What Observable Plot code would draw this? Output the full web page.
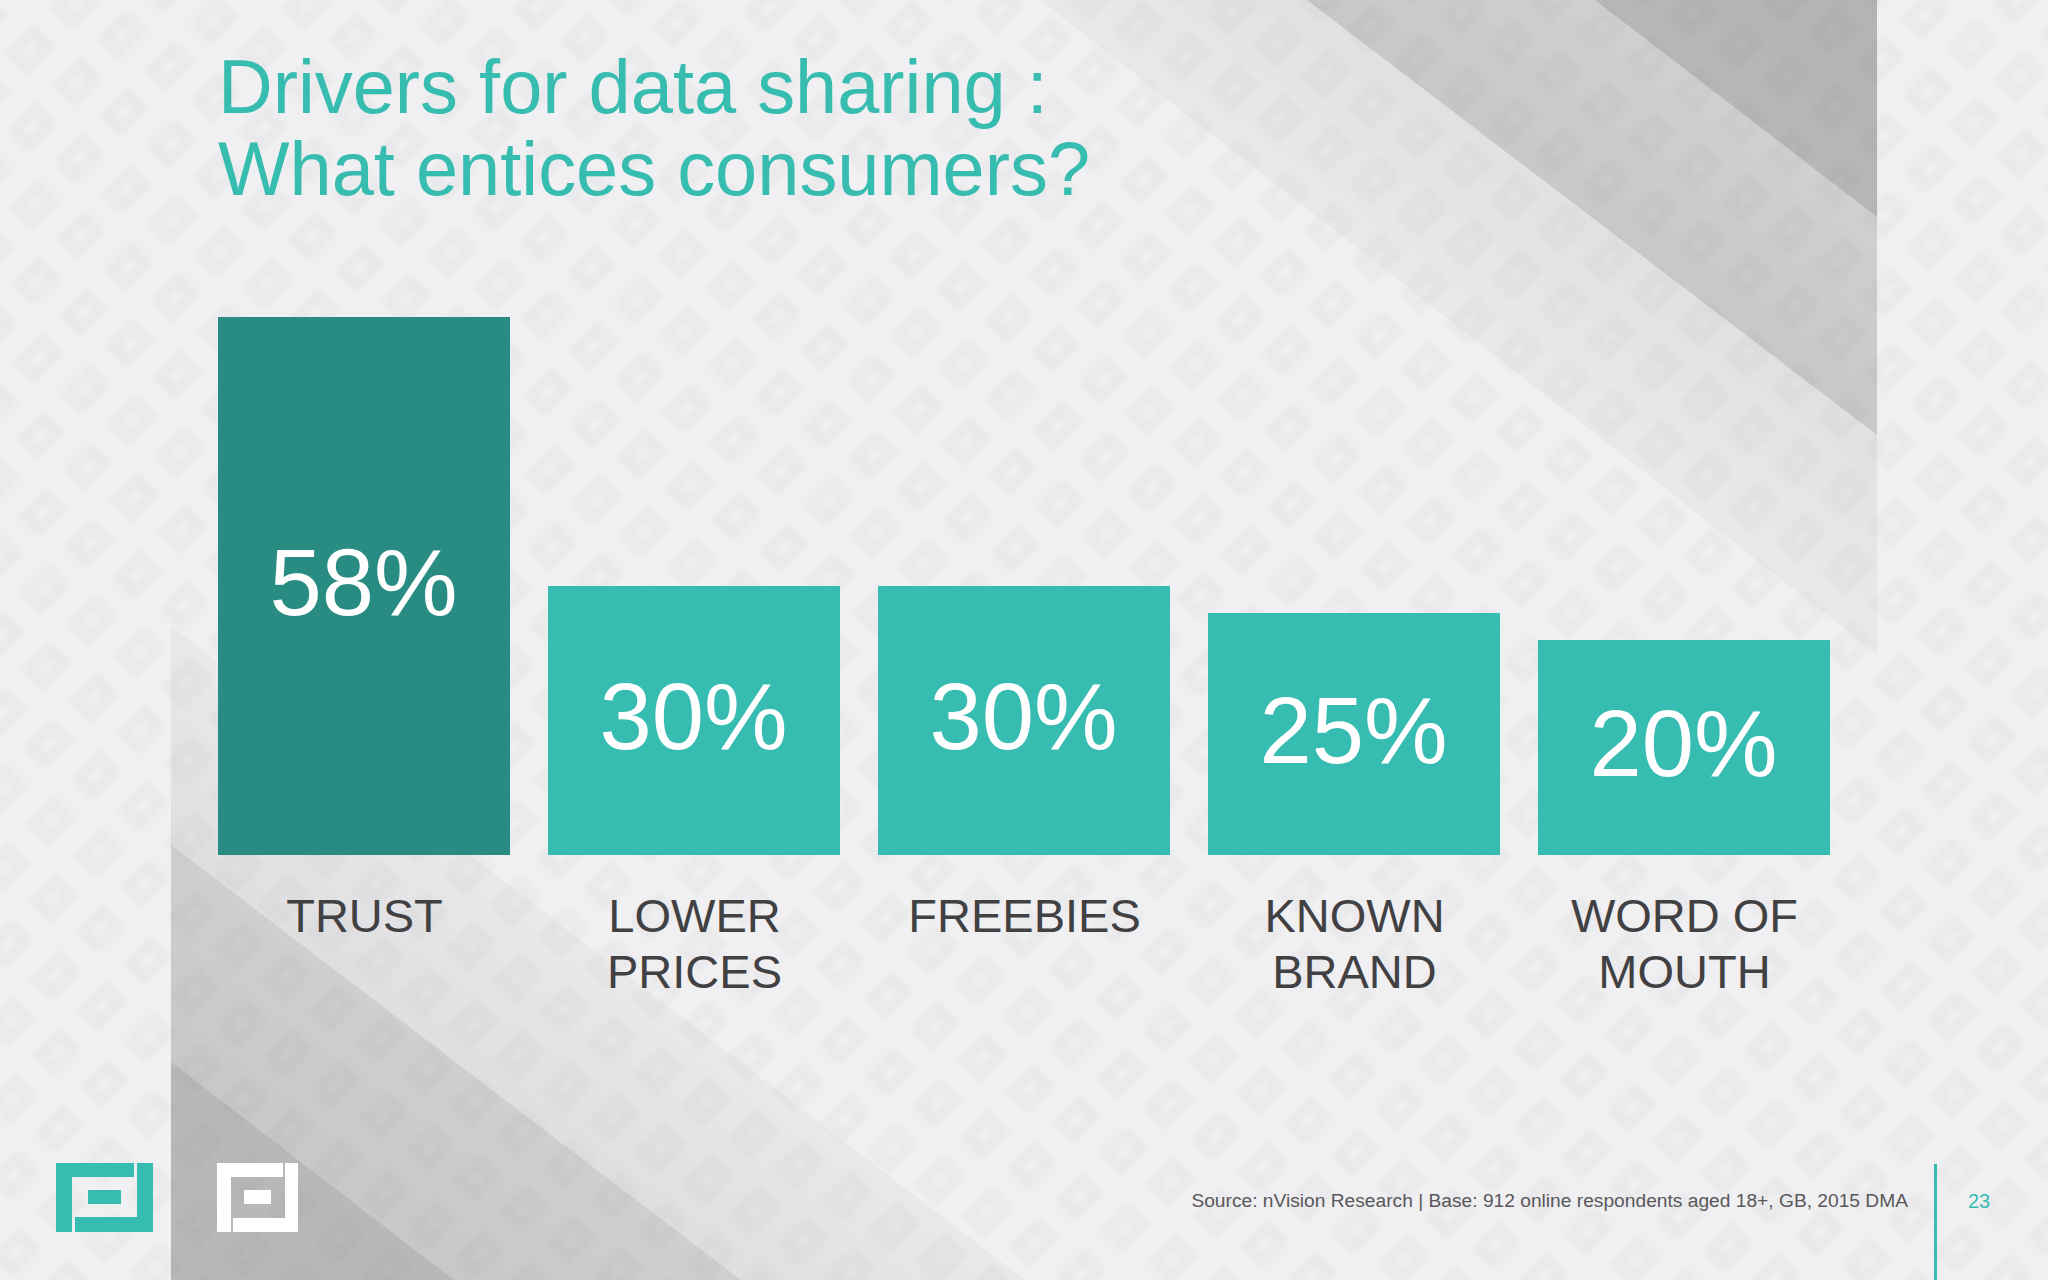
<!DOCTYPE html>
<html>
<head>
<meta charset="utf-8">
<script src="https://cdn.jsdelivr.net/npm/d3@7"></script>
<script src="https://cdn.jsdelivr.net/npm/@observablehq/plot@0.6"></script>
<style>
  html, body { margin: 0; padding: 0; background: #f0eff2; }
  body { position: relative; width: 2048px; height: 1280px; overflow: hidden; font-family: "Liberation Sans", Arial, sans-serif; }
  #chart { position: absolute; left: 0; top: 0; }
  #chart svg { display: block; background: transparent; }
  #title { position: absolute; left: 218px; top: 46px; margin: 0; font-size: 75.8px; line-height: 82px; font-weight: 400; color: #37bcb0; white-space: pre; }
  #source { position: absolute; right: 140px; top: 1189px; font-size: 19.2px; line-height: 24px; color: #58585a; white-space: nowrap; }
  #page { position: absolute; left: 1959px; width: 40px; text-align: center; top: 1189px; font-size: 20px; line-height: 24px; color: #37bcb0; }
  #rule { position: absolute; left: 1934px; top: 1164px; width: 3px; height: 116px; background: #37bcb0; }
</style>
</head>
<body>
<div id="chart"></div>
<h1 id="title"></h1>
<div id="source"></div>
<div id="rule"></div>
<div id="page"></div>
<script>
const titleLines = ["Drivers for data sharing :", "What entices consumers?"];
const sourceText = "Source: nVision Research | Base: 912 online respondents aged 18+, GB, 2015 DMA";
const pageNumber = "23";

const categories = ["TRUST", "LOWER\nPRICES", "FREEBIES", "KNOWN\nBRAND", "WORD OF\nMOUTH"];
const values = [58, 30, 30, 25, 20];
const barColors = ["#288c83", "#37bcb1", "#37bcb1", "#37bcb1", "#37bcb1"];

// The original's bars are not proportional to their labels: this piecewise
// transform maps each percentage to the relative height it is drawn with.
const valueStops = [0, 20, 25, 30, 58];
const drawnStops = [0, 215, 242, 269, 538];
const drawnHeight = d3.scaleLinear().domain(valueStops).range(drawnStops);

const rows = categories.map((category, i) => ({category, value: values[i]}));

document.getElementById("title").textContent = titleLines.join("\n");
document.getElementById("source").textContent = sourceText;
document.getElementById("page").textContent = pageNumber;

// Decorative slide backdrop: diagonal bands, faint diamond texture and logos.
function backdrop() {
  const g = d3.create("svg:g").attr("aria-label", "backdrop");
  const defs = g.append("defs");
  const nx = 0.608, ny = 0.793;
  const bands = [
    {id: "tr3", pts: [[1040,0],[1877,0],[1877,654]], from: [1040,0], len: 267*nx, dir: [nx,-ny], c: ["#e9e9eb","#e1e1e3"]},
    {id: "tr2", pts: [[1307,0],[1877,0],[1877,435]], from: [1307,0], len: 288*nx, dir: [nx,-ny], c: ["#c8c8ca","#d0d0d1"]},
    {id: "tr1", pts: [[1595,0],[1877,0],[1877,217]], from: [1595,0], len: 282*nx, dir: [nx,-ny], c: ["#b7b7b9","#b3b3b4"]},
    {id: "bl3", pts: [[171,626],[171,1280],[1025,1280]], from: [1025,1280], len: 284*nx, dir: [-nx,ny], c: ["#e9e9eb","#dfdfe1"]},
    {id: "bl2", pts: [[171,845],[171,1280],[741,1280]], from: [741,1280], len: 287*nx, dir: [-nx,ny], c: ["#cfcfd0","#c8c8ca"]},
    {id: "bl1", pts: [[171,1062],[171,1280],[454,1280]], from: [454,1280], len: 283*nx, dir: [-nx,ny], c: ["#b8b7b9","#b7b7b8"]}
  ];
  for (const b of bands) {
    const lg = defs.append("linearGradient").attr("id", b.id).attr("gradientUnits", "userSpaceOnUse")
      .attr("x1", b.from[0]).attr("y1", b.from[1])
      .attr("x2", b.from[0] + b.dir[0]*b.len).attr("y2", b.from[1] + b.dir[1]*b.len);
    lg.append("stop").attr("offset", 0).attr("stop-color", b.c[0]);
    lg.append("stop").attr("offset", 1).attr("stop-color", b.c[1]);
    g.append("polygon").attr("points", b.pts.join(" ")).attr("fill", `url(#${b.id})`);
  }
  // texture
  const f = defs.append("filter").attr("id", "soft").attr("filterUnits", "userSpaceOnUse")
    .attr("x", 0).attr("y", 0).attr("width", 2048).attr("height", 1280);
  f.append("feGaussianBlur").attr("stdDeviation", 2.4);
  const a = [47.1, 31.1], b = [45, -46], o = [30, 50];
  const rect = (cx, cy, hu, hv) => {
    const c = Math.SQRT1_2;
    const p = [[-hu,-hv],[hu,-hv],[hu,hv],[-hu,hv]].map(([u,v]) => [cx + c*u - c*v, cy - c*u - c*v]);
    return "M" + p.map(q => q[0].toFixed(1) + "," + q[1].toFixed(1)).join("L") + "Z";
  };
  let d = "";
  for (let m = -40; m < 60; m++) for (let n = -40; n < 40; n++) {
    const cx = o[0] + m*a[0] + n*b[0], cy = o[1] + m*a[1] + n*b[1];
    if (cx < -40 || cx > 2088 || cy < -40 || cy > 1320) continue;
    d += rect(cx, cy, 21, 16) + rect(cx, cy, 7, 4);
  }
  g.append("path").attr("d", d).attr("fill", "#000").attr("fill-opacity", 0.022)
    .attr("fill-rule", "evenodd").attr("filter", "url(#soft)");
  // logos
  const logo = (x, color, parts) => parts.forEach(([px, py, w, h]) =>
    g.append("rect").attr("x", x + px).attr("y", 1163 + py).attr("width", w).attr("height", h).attr("fill", color));
  logo(56, "#37bcb1", [[0,0,16,69],[16,0,62,14],[81,0,16,69],[19,54,62,15],[32,27,33,14]]);
  logo(217, "#ffffff", [[0,0,14,69],[14,0,52,14],[68,0,13,69],[16,55,52,14],[27,27,27,14]]);
  return g.node();
}

const chart = Plot.plot({
  width: 2048,
  height: 1280,
  marginTop: 0,
  marginLeft: 0,
  marginRight: 0,
  marginBottom: 425,
  style: {background: "transparent", fontFamily: "'Liberation Sans', Arial, sans-serif"},
  x: {domain: categories, range: [217, 1831], paddingInner: 0.115, paddingOuter: 0, label: null},
  y: {transform: drawnHeight, range: [855, 317], axis: null, label: null, nice: false},
  color: {domain: categories, range: barColors},
  marks: [
    backdrop,
    Plot.barY(rows, {x: "category", y: "value", fill: "category"}),
    Plot.text(rows, {
      x: "category",
      y: d => drawnHeight.invert(drawnHeight(d.value) / 2),
      text: d => d.value + "%",
      fill: "#ffffff",
      fontSize: 94,
      dx: -1,
      dy: -2,
      textAnchor: "middle"
    }),
    Plot.axisX({
      anchor: "bottom",
      tickSize: 0,
      tickPadding: 0,
      label: null,
      fontSize: 47,
      lineHeight: 1.2,
      lineAnchor: "top",
      dy: 36,
      fill: "#414042",
      tickFormat: d => d
    })
  ]
});
document.getElementById("chart").appendChild(chart);
</script>
</body>
</html>
